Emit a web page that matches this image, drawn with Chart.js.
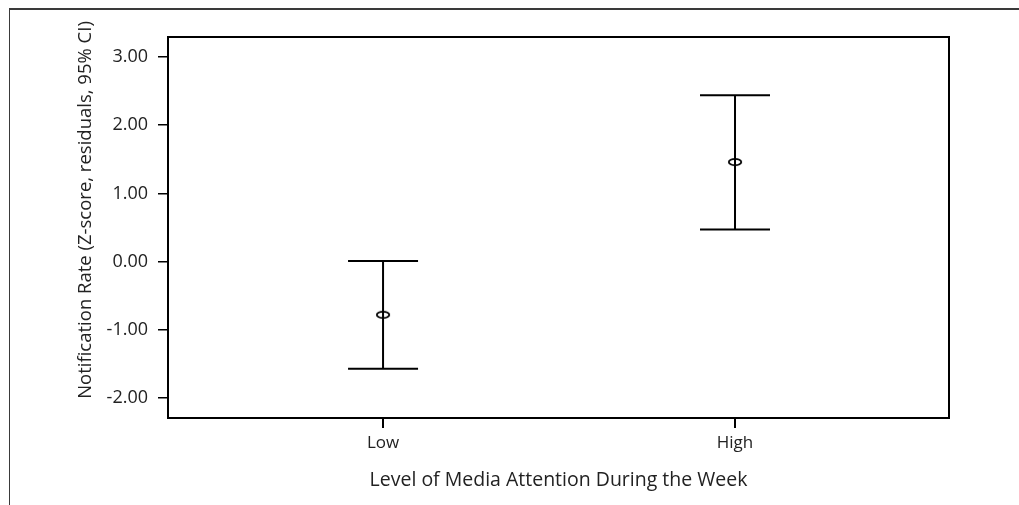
<!DOCTYPE html>
<html>
<head>
<meta charset="utf-8">
<script src="https://cdn.jsdelivr.net/npm/chart.js@4.4.1/dist/chart.umd.min.js"></script>
<style>
  html, body { margin: 0; padding: 0; background: #fff; }
  #wrap { position: relative; width: 1019px; height: 505px; }
  #frame { position: absolute; left: 9px; top: 8px; right: 0; bottom: 0;
           border-top: 2px solid #3a3a3a; border-left: 1px solid #3a3a3a; pointer-events: none; }
</style>
</head>
<body>
<div id="wrap">
  <canvas id="ciChart" width="1019" height="505"></canvas>
  <div id="frame"></div>
</div>
<script>
const categories = ['Low', 'High'];
const means = [-0.78, 1.46];
const lowerCI = [-1.57, 0.47];
const upperCI = [0.01, 2.44];
const yTicks = [-2, -1, 0, 1, 2, 3];

const FONT = '"Open Sans", "Noto Sans", sans-serif';

// small open ellipse used as the point marker
function ellipseMarker() {
    const c = document.createElement('canvas');
    c.width = 16; c.height = 10;
    const g = c.getContext('2d');
    g.strokeStyle = '#000';
    g.lineWidth = 1.8;
    g.beginPath();
    g.ellipse(8, 5, 6.2, 3.2, 0, 0, Math.PI * 2);
    g.stroke();
    return c;
}

const errorBars = {
    id: 'errorBars',
    beforeDatasetsDraw(chart) {
        const { ctx, scales: { x, y } } = chart;
        ctx.save();
        ctx.strokeStyle = '#000';
        ctx.lineWidth = 2;
        categories.forEach((cat, i) => {
            const px = x.getPixelForValue(i + 1);
            const top = y.getPixelForValue(upperCI[i]);
            const bot = y.getPixelForValue(lowerCI[i]);
            ctx.beginPath();
            ctx.moveTo(px, top); ctx.lineTo(px, bot);
            ctx.moveTo(px - 35, top); ctx.lineTo(px + 35, top);
            ctx.moveTo(px - 35, bot); ctx.lineTo(px + 35, bot);
            ctx.stroke();
        });
        ctx.restore();
    },
    afterDraw(chart) {
        const { ctx, chartArea: a } = chart;
        ctx.save();
        ctx.strokeStyle = '#000';
        ctx.lineWidth = 2;
        ctx.strokeRect(a.left, a.top, a.right - a.left, a.bottom - a.top);
        // y axis title
        ctx.fillStyle = '#222';
        ctx.font = '18.5px ' + FONT;
        ctx.textAlign = 'center';
        ctx.textBaseline = 'middle';
        ctx.translate(86, 210);
        ctx.rotate(-Math.PI / 2);
        ctx.fillText('Notification Rate (Z-score, residuals, 95% CI)', 0, 0);
        ctx.restore();
    }
};

new Chart(document.getElementById('ciChart'), {
    type: 'scatter',
    data: {
        datasets: [{
            data: means.map((m, i) => ({ x: i + 1, y: m })),
            pointStyle: ellipseMarker(),
            pointRadius: 6,
            showLine: false
        }]
    },
    options: {
        responsive: false,
        animation: false,
        layout: { padding: { top: 37, right: 70, left: 0, bottom: 0 } },
        plugins: { legend: { display: false }, tooltip: { enabled: false } },
        scales: {
            x: {
                type: 'linear',
                min: 0.389,
                max: 2.608,
                afterFit: s => { s.height = 87; },
                afterBuildTicks: s => { s.ticks = [1, 2].map(v => ({ value: v })); },
                grid: { drawOnChartArea: false, drawTicks: true, tickLength: 10, color: '#000', lineWidth: 2 },
                border: { display: false },
                ticks: {
                    padding: 5,
                    color: '#222',
                    font: { family: FONT, size: 17 },
                    callback: v => categories[v - 1]
                },
                title: {
                    display: true,
                    text: 'Level of Media Attention During the Week',
                    color: '#222',
                    font: { family: FONT, size: 19.5 },
                    padding: { top: 0, bottom: 13 }
                }
            },
            y: {
                min: -2.293,
                max: 3.293,
                afterFit: s => { s.width = 168; },
                afterBuildTicks: s => { s.ticks = yTicks.map(v => ({ value: v })); },
                grid: { drawOnChartArea: false, drawTicks: true, tickLength: 10, color: '#000', lineWidth: 1.5 },
                border: { display: false },
                ticks: {
                    padding: 10,
                    color: '#222',
                    font: { family: FONT, size: 18 },
                    callback: v => v.toFixed(2)
                }
            }
        }
    },
    plugins: [errorBars]
});
</script>
</body>
</html>
